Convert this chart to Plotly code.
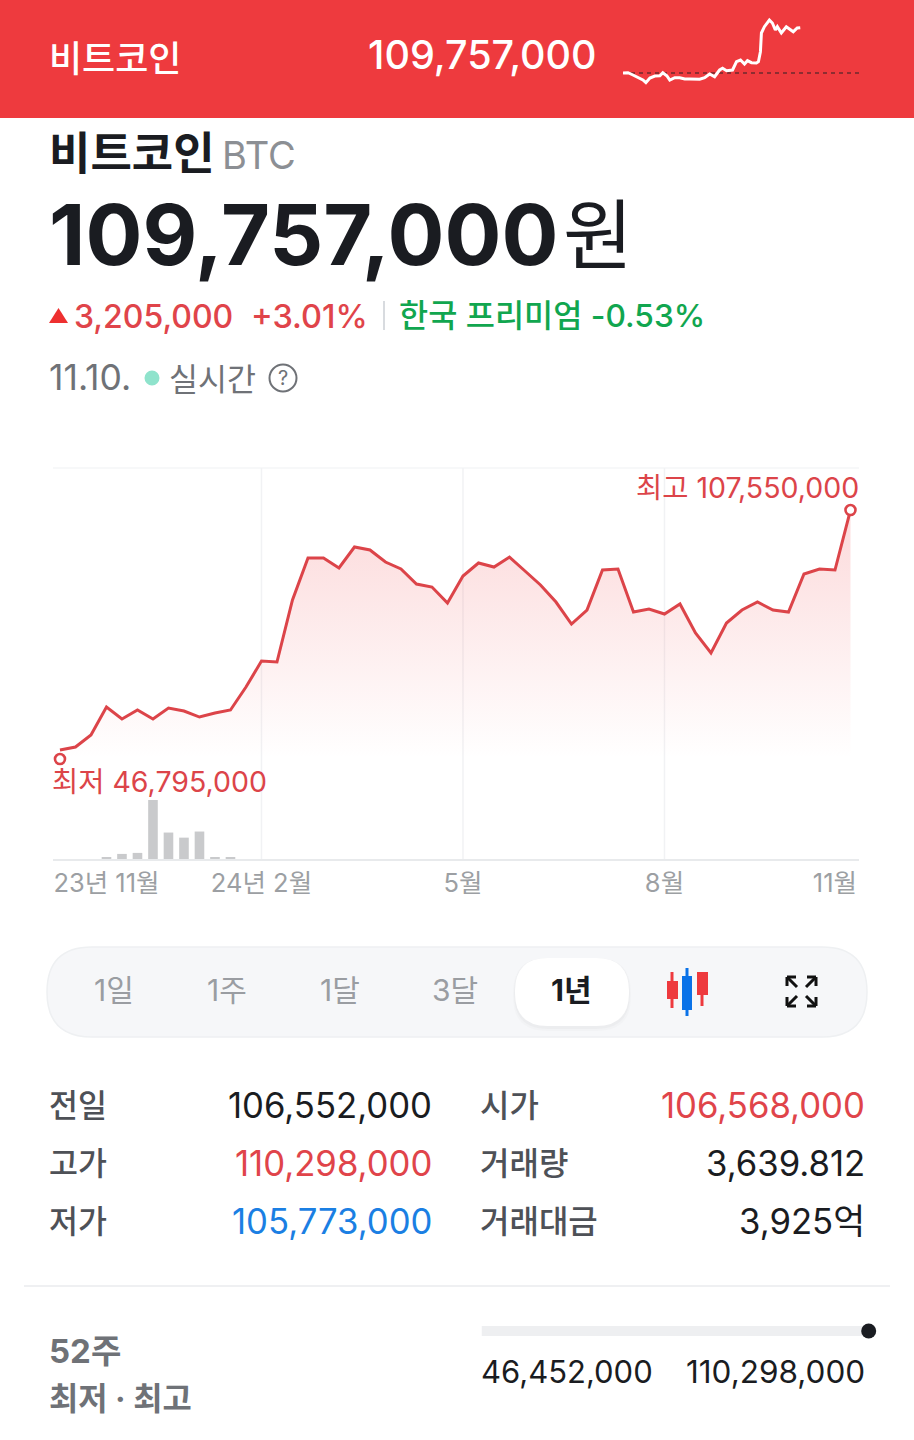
import plotly.graph_objects as go

W, H = 914, 1440
FONT = "Inter, 'Noto Sans CJK KR', sans-serif"
KR = "'Noto Sans CJK KR', sans-serif"

RED = "#ee3a3e"
LINE_RED = "#dc4449"
INK = "#1a1c21"
GREY = "#6f7277"
LABEL = "#4e5157"

# one year of weekly closes, million won
weeks = list(range(52))
close_m = [
    49.0, 49.72, 52.65, 59.48, 56.56, 58.75, 56.56, 59.24, 58.51, 57.04, 58.02, 58.75, 64.36,
    70.71, 70.46, 85.59, 95.84, 95.84, 93.40, 98.52, 97.79, 94.86, 93.16, 89.50, 88.76, 84.86,
    91.45, 94.62, 93.64, 96.08, 92.67, 89.25, 85.10, 79.73, 83.15, 92.91, 93.16, 82.66, 83.40,
    82.18, 84.62, 77.54, 72.66, 79.98, 83.15, 85.10, 83.15, 82.66, 91.94, 93.16, 92.91, 107.55,
]
low_won = 46795000
high_won = 107550000

# volume bars, relative height only
volume_weeks = [3, 4, 5, 6, 7, 8, 9, 10, 11]
volume = [1, 5, 6, 58, 26, 21, 27, 1, 1]

tick_weeks = [3, 13, 26, 39, 50]
tick_labels = ["23년 11월", "24년 2월", "5월", "8월", "11월"]
grid_weeks = [13, 26, 39]

# intraday sparkline in the red banner
spark_hours = [
    0.0, 0.5, 1.0, 1.5, 2.0, 2.3, 2.7, 3.2, 3.7, 4.0, 4.4, 4.7, 5.2, 5.7, 6.2, 6.7, 7.2, 7.7, 8.2,
    8.7, 9.2, 9.7, 10.0, 10.4, 11.0, 11.4, 11.8, 12.2, 12.5, 12.9, 13.4, 13.6, 13.8, 13.9, 14.2,
    14.7, 15.0, 15.3, 15.5, 15.9, 16.4, 16.7, 17.1, 17.5, 17.8,
]
spark_price = [
    106.552, 106.573, 106.411, 106.220, 106.057, 105.866, 106.198, 106.340, 106.361, 106.573,
    106.361, 106.057, 106.220, 106.220, 106.128, 106.128, 106.107, 106.107, 106.220, 106.481,
    106.290, 106.764, 106.884, 106.715, 106.764, 107.351, 107.471, 107.188, 107.422, 107.280,
    107.259, 107.351, 108.058, 109.380, 109.825, 110.298, 110.087, 109.592, 109.825, 109.380,
    109.825, 109.663, 109.472, 109.734, 109.757,
]
prev_close_m = 106.552

range_low_m = 46.452
range_high_m = 110.298
current_m = 109.757

tabs = ["1일", "1주", "1달", "3달", "1년"]
table_left = [("전일", "106,552,000", INK), ("고가", "110,298,000", "#e0444a"), ("저가", "105,773,000", "#1b7fe3")]
table_right = [("시가", "106,568,000", "#e0444a"), ("거래량", "3,639.812", INK), ("거래대금", "3,925억", INK)]


def px(x):
    return x / W


def py(y):
    return 1 - y / H


def rect(x0, y0, x1, y1, fill, line=None, layer="below"):
    return dict(type="rect", xref="paper", yref="paper", x0=px(x0), x1=px(x1), y0=py(y0), y1=py(y1),
                fillcolor=fill, line=dict(color=line or fill, width=1 if line else 0), layer=layer)


def rounded(x0, y0, x1, y1, r, fill, line=None, opacity=1):
    a, b, c, d = px(x0), px(x1), py(y0), py(y1)
    rx, ry = r / W, r / H
    path = (f"M {a + rx} {c} L {b - rx} {c} Q {b} {c} {b} {c - ry} L {b} {d + ry} Q {b} {d} {b - rx} {d} "
            f"L {a + rx} {d} Q {a} {d} {a} {d + ry} L {a} {c - ry} Q {a} {c} {a + rx} {c} Z")
    return dict(type="path", xref="paper", yref="paper", path=path, fillcolor=fill, opacity=opacity,
                line=dict(color=line or fill, width=1.5 if line else 0), layer="below")


def seg(x0, y0, x1, y1, color, width):
    return dict(type="line", xref="paper", yref="paper", x0=px(x0), x1=px(x1), y0=py(y0), y1=py(y1),
                line=dict(color=color, width=width), layer="below")


def circle(cx, cy, r, fill, line=None, width=0):
    return dict(type="circle", xref="paper", yref="paper", x0=px(cx - r), x1=px(cx + r), y0=py(cy + r), y1=py(cy - r),
                fillcolor=fill, line=dict(color=line or fill, width=width), layer="below")


def poly(points, fill):
    path = "M " + " L ".join(f"{px(x)} {py(y)}" for x, y in points) + " Z"
    return dict(type="path", xref="paper", yref="paper", path=path, fillcolor=fill, line=dict(width=0), layer="below")


def label(text, x, y, size, color, anchor="left", weight=400, family=FONT):
    # annotations sit about 2px inside their anchor
    nudge = {"left": -2, "right": 2, "center": 0}[anchor]
    return dict(text=text, xref="paper", yref="paper", x=px(x + nudge), y=py(y), xanchor=anchor, yanchor="middle",
                showarrow=False, borderpad=0, font=dict(size=size, color=color, family=family, weight=weight))


fig = go.Figure()

fig.add_trace(go.Bar(x=volume_weeks, y=volume, width=0.62, marker=dict(color="#c9cacc", line=dict(width=0)), yaxis="y2"))
fig.add_trace(go.Scatter(
    x=weeks, y=close_m, mode="lines", line=dict(color=LINE_RED, width=3), fill="tozeroy",
    fillgradient=dict(type="vertical", start=47, stop=107,
                      colorscale=[[0, "rgba(240,70,75,0)"], [1, "rgba(240,70,75,0.2)"]]),
))
fig.add_trace(go.Scatter(
    x=[weeks[0], weeks[-1]], y=[low_won / 1e6, high_won / 1e6], mode="markers",
    marker=dict(size=10, color="white", line=dict(color=LINE_RED, width=2.6)),
))
fig.add_trace(go.Scatter(x=[0, 24], y=[prev_close_m, prev_close_m], mode="lines", xaxis="x2", yaxis="y3",
                         line=dict(color="#6e2a2e", width=1.4, dash="4px,4px")))
fig.add_trace(go.Scatter(x=spark_hours, y=spark_price, mode="lines", xaxis="x2", yaxis="y3",
                         line=dict(color="white", width=3)))
fig.add_trace(go.Scatter(x=[range_low_m, range_high_m], y=[0.5, 0.5], mode="lines", xaxis="x3", yaxis="y4",
                         line=dict(color="#eeeff1", width=10)))
fig.add_trace(go.Scatter(x=[current_m], y=[0.5], mode="markers", xaxis="x3", yaxis="y4", cliponaxis=False,
                         marker=dict(size=15, color=INK)))

shapes = [
    rect(0, 0, W, 118, RED),
    # chart frame
    seg(53, 468, 859, 468, "#f5f6f7", 1.5),
    # tab bar
    rounded(47, 947, 867, 1037, 45, "#f6f7f9", "#eef0f2"),
    rounded(513, 958, 631, 1031, 34, "#000000", opacity=0.015),
    rounded(514, 958, 630, 1029, 34, "#000000", opacity=0.025),
    rounded(515, 958, 629, 1026, 33, "white"),
    # candle icon
    seg(672, 972, 672, 1008, RED, 3), rect(667, 981, 678, 999, RED),
    seg(687, 968, 687, 1016, "#0a72e8", 3), rect(682, 976, 692, 1010, "#0a72e8"),
    seg(702, 972, 702, 1006, RED, 3), rect(697, 972, 708, 995, RED),
    # separators and small marks
    seg(24, 1286, 890, 1286, "#eff0f2", 2),
    seg(384, 301, 384, 330, "#d8dbdf", 2),
    poly([(49, 323), (68, 323), (58.5, 308)], "#ee3030"),
    circle(152, 378, 7.5, "#8fe3cc"),
    circle(283, 378, 13.5, "white", GREY, 2),
]
# expand icon corners
for cx, cy, sx, sy in [(787, 977, 1, 1), (816, 977, -1, 1), (787, 1006, 1, -1), (816, 1006, -1, -1)]:
    shapes.append(seg(cx, cy, cx + 9 * sx, cy, "#111111", 3))
    shapes.append(seg(cx, cy, cx, cy + 9 * sy, "#111111", 3))
    shapes.append(seg(cx, cy, cx + 10 * sx, cy + 10 * sy, "#111111", 3))
for week in grid_weeks:
    shapes.append(dict(type="line", xref="x", yref="paper", x0=week, x1=week, y0=py(859), y1=py(468),
                       line=dict(color="#f1f2f4", width=1.5), layer="below"))

notes = [
    label("비트코인", 50, 56, 36, "white", weight=500, family=KR),
    label("109,757,000", 369, 55, 39.5, "white", weight=500),
    label("비트코인", 50, 151, 45, INK, weight=700, family=KR),
    label("BTC", 223, 155, 38, "#8c8f94"),
    label("109,757,000", 50, 234, 84.5, INK, weight=700),
    label("원", 564, 230, 76, INK, family=KR),
    label("3,205,000", 75, 316, 32, "#e0444a", weight=500),
    label("+3.01%", 252, 316, 32.5, "#e0444a", weight=500),
    label("한국 프리미엄 -0.53%", 400, 315, 31.7, "#11a64f", weight=500),
    label("11.10.", 50, 378, 35.5, GREY),
    label("실시간", 170, 377, 31.5, GREY, family=KR),
    label("?", 283, 378, 20, GREY, anchor="center"),
    label(f"최고 {high_won:,}", 858, 487, 28.5, LINE_RED, anchor="right"),
    label(f"최저 {low_won:,}", 53, 782, 28.5, LINE_RED),
    label("52주", 50, 1351, 33, GREY, weight=700),
    label("최저 · 최고", 50, 1398, 31.8, GREY, weight=700),
    label("46,452,000", 482, 1371, 31, INK),
    label("110,298,000", 864, 1371, 31.5, INK, anchor="right"),
]
for name, x in zip(tabs, [114, 227, 340, 455, 571]):
    active = name == "1년"
    notes.append(label(name, x, 990, 30, INK if active else "#9a9da2", anchor="center", weight=700 if active else 400))
for (name, value, color), y in zip(table_left, [1105, 1163, 1221]):
    notes.append(label(name, 50, y - 2, 31.5, LABEL, weight=500, family=KR))
    notes.append(label(value, 431, y, 34.7, color, anchor="right"))
for (name, value, color), y in zip(table_right, [1105, 1163, 1221]):
    notes.append(label(name, 481, y - 2, 32, LABEL, weight=500, family=KR))
    notes.append(label(value, 864, y, 34.7, color, anchor="right"))

hidden = dict(visible=False, fixedrange=True)
fig.update_layout(
    width=W, height=H, margin=dict(l=0, r=0, t=0, b=0), showlegend=False, hovermode=False,
    paper_bgcolor="white", plot_bgcolor="rgba(0,0,0,0)", font=dict(family=FONT),
    shapes=shapes, annotations=notes,
    xaxis=dict(domain=[px(53), px(859)], range=[-0.45, 51.55], tickmode="array", tickvals=tick_weeks,
               ticktext=tick_labels, tickfont=dict(size=25.5, color="#9c9fa3"), ticks="",
               showgrid=False, zeroline=False, showline=True,
               linecolor="#e8eaec", linewidth=2, anchor="y", fixedrange=True),
    yaxis=dict(domain=[py(859), py(468)], range=[22.4, 117.8], **hidden),
    yaxis2=dict(domain=[py(859), py(800)], range=[0, 58], anchor="x", **hidden),
    xaxis2=dict(domain=[px(623), px(862)], range=[0, 24], anchor="y3", **hidden),
    yaxis3=dict(domain=[py(90), py(10)], range=[105.35, 111.006], anchor="x2", **hidden),
    xaxis3=dict(domain=[px(481.5), px(872)], range=[range_low_m, range_high_m], anchor="y4", **hidden),
    yaxis4=dict(domain=[py(1341), py(1321)], range=[0, 1], anchor="x3", **hidden),
)

fig.write_html("out.html", config={"displayModeBar": False},
               post_script="document.body.style.margin='0';")
